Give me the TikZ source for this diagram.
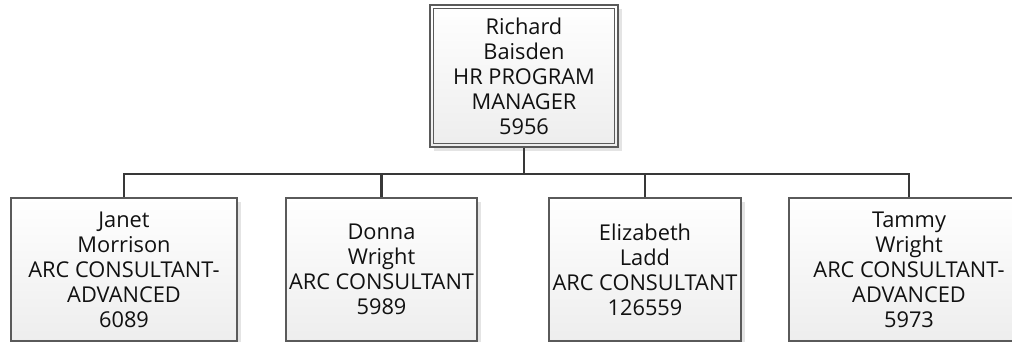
\documentclass[tikz,border=0pt]{standalone}
\usepackage{fontspec}
\setmainfont{Open Sans}
\usetikzlibrary{shadows}
\definecolor{linec}{HTML}{383838}
\definecolor{boxborder}{HTML}{5A5A5A}
\definecolor{shadowc}{HTML}{E4E4E4}
\definecolor{txt}{HTML}{111111}
\tikzset{
  card/.style={draw=boxborder, line width=1.1pt, rectangle,
    top color=white, bottom color=black!7,
    drop shadow={shadow xshift=4pt, shadow yshift=-4pt, fill=shadowc, opacity=1},
    align=center, text=txt, inner sep=0pt,
    font=\fontsize{21.8}{25}\selectfont},
  link/.style={draw=linec, line width=2.8pt}
}
\begin{document}
\begin{tikzpicture}[x=1pt,y=-1pt]
\clip (0,0) rectangle (1012,342);
\useasboundingbox (0,0) rectangle (1012,342);
\fill[white] (0,0) rectangle (1012,342);
\node[card, minimum width=188pt, minimum height=142pt] (top) at (524,76)
  {Richard\\Baisden\\HR PROGRAM\\MANAGER\\5956};
\draw[boxborder, line width=1.1pt] ([shift={(4pt,-4.5pt)}]top.north west) rectangle ([shift={(-4pt,4pt)}]top.south east);
\node[card, minimum width=226pt, minimum height=143pt] (c1) at (124,269.5)
  {Janet\\Morrison\\ARC CONSULTANT-\\ADVANCED\\6089};
\node[card, minimum width=191pt, minimum height=143pt] (c2) at (381.5,269.5)
  {Donna\\Wright\\ARC CONSULTANT\\5989};
\node[card, minimum width=192pt, minimum height=143pt] (c3) at (645,269.5)
  {Elizabeth\\Ladd\\ARC CONSULTANT\\126559};
\node[card, minimum width=240pt, minimum height=143pt] (c4) at (909,269.5)
  {Tammy\\Wright\\ARC CONSULTANT-\\ADVANCED\\5973};
\coordinate (bar) at (0,174);
\draw[link] (top.south) -- (top.south |- bar);
\draw[link, line cap=rect] (c1.north |- bar) -- (c4.north |- bar);
\foreach \c in {c1,c2,c3,c4}{
  \draw[link] (\c.north) -- (\c.north |- bar);
}
\end{tikzpicture}
\end{document}
